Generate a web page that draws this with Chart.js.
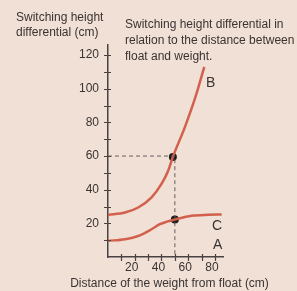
<!DOCTYPE html>
<html>
<head>
<meta charset="utf-8">
<script src="https://cdn.jsdelivr.net/npm/chart.js@4"></script>
<style>
  html, body { margin: 0; padding: 0; }
  body { width: 297px; height: 291px; background: #f0e0d5; position: relative; overflow: hidden;
         font-family: "Liberation Sans", Arial, sans-serif; color: #3a3333; }
  #chart { position: absolute; left: 0; top: 0; }
  .txt { position: absolute; font-size: 12px; white-space: nowrap; }
  .lbl { position: absolute; font-size: 14px; line-height: 14px; }
</style>
</head>
<body>
<canvas id="chart" width="297" height="291"></canvas>
<div class="txt" style="left:16px; top:10px; line-height:15px;">Switching height<br>differential (cm)</div>
<div class="txt" style="left:125px; top:16px; line-height:16px;">Switching height differential in<br>relation to the distance between<br>float and weight.</div>
<div class="txt" style="left:0; width:339px; text-align:center; top:276px; line-height:15px;">Distance of the weight from float (cm)</div>
<div class="lbl" style="left:206px; top:75px;">B</div>
<div class="lbl" style="left:212px; top:218px;">C</div>
<div class="lbl" style="left:213px; top:237px;">A</div>
<script>
// ------------------------------------
// Data
// ------------------------------------
const curveBX = [0, 12.7, 22.6, 32.6, 40, 45, 48.5, 57.5, 65.4, 72];
const curveBY = [25, 26.4, 29.4, 35.4, 43.4, 51.3, 59.5, 77.2, 95.1, 113];
const curveAX = [0, 12.7, 22.6, 32.6, 38.8, 44, 50, 62.5, 75, 85];
const curveAY = [9.6, 10.6, 12.5, 16.5, 19.5, 21, 22.3, 24.5, 25.1, 25.3];
const guideX = [0, 50, 50];
const guideY = [60, 60, 0];
const markX = [48.5, 50];
const markY = [59.5, 22.3];
const xLabels = [20, 40, 60, 80];
const yLabels = [20, 40, 60, 80, 100, 120];

const toPts = (xs, ys) => xs.map((x, i) => ({ x: x, y: ys[i] }));

const lineRed = '#d2604c';
const axisCol = '#4a4242';

// ticks that cross the axis line
const crossTicks = {
    id: 'crossTicks',
    afterDraw(chart) {
        const ctx = chart.ctx;
        const xs = chart.scales.x, ys = chart.scales.y;
        ctx.save();
        ctx.strokeStyle = axisCol;
        ctx.lineWidth = 1.2;
        ctx.beginPath();
        ys.ticks.forEach(t => {
            if (t.value <= 0) return;
            const py = Math.round(ys.getPixelForValue(t.value)) + 0.5;
            ctx.moveTo(xs.left - 4, py);
            ctx.lineTo(xs.left + 3, py);
        });
        xs.ticks.forEach(t => {
            if (t.value <= 0) return;
            const px = Math.round(xs.getPixelForValue(t.value)) + 0.5;
            ctx.moveTo(px, ys.bottom - 3);
            ctx.lineTo(px, ys.bottom + 4);
        });
        ctx.stroke();
        ctx.restore();
    }
};

function initChart() {
    const ctx = document.getElementById('chart').getContext('2d');
    new Chart(ctx, {
        type: 'line',
        data: {
            datasets: [
                {
                    data: toPts(guideX, guideY),
                    borderColor: '#666060',
                    borderWidth: 1,
                    borderDash: [4, 3],
                    pointRadius: 0,
                    tension: 0
                },
                {
                    data: toPts(curveBX, curveBY),
                    borderColor: lineRed,
                    borderWidth: 2.5,
                    pointRadius: 0,
                    cubicInterpolationMode: 'monotone'
                },
                {
                    data: toPts(curveAX, curveAY),
                    borderColor: lineRed,
                    borderWidth: 2.5,
                    pointRadius: 0,
                    cubicInterpolationMode: 'monotone'
                },
                {
                    data: toPts(markX, markY),
                    showLine: false,
                    pointRadius: 4,
                    pointBackgroundColor: '#1a1a1a',
                    pointBorderWidth: 0
                }
            ]
        },
        options: {
            responsive: false,
            animation: false,
            layout: { padding: { top: 45, right: 74, left: 0, bottom: 0 } },
            plugins: { legend: { display: false }, tooltip: { enabled: false } },
            scales: {
                x: {
                    type: 'linear',
                    min: 0, max: 86,
                    afterFit(scale) { scale.height = 34; },
                    grid: { display: false, drawTicks: false },
                    border: { display: true, color: axisCol, width: 1.5 },
                    ticks: {
                        stepSize: 10,
                        includeBounds: false,
                        autoSkip: false,
                        maxRotation: 0,
                        padding: 3,
                        labelOffset: -3,
                        color: '#3a3333',
                        font: { family: 'Liberation Sans', size: 12 },
                        callback: v => xLabels.includes(v) ? String(v) : ''
                    }
                },
                y: {
                    type: 'linear',
                    min: 0, max: 126,
                    afterFit(scale) { scale.width = 108; },
                    grid: { display: false, drawTicks: false },
                    border: { display: true, color: axisCol, width: 1.5 },
                    ticks: {
                        stepSize: 10,
                        includeBounds: false,
                        autoSkip: false,
                        padding: 9,
                        color: '#3a3333',
                        font: { family: 'Liberation Sans', size: 12 },
                        callback: v => yLabels.includes(v) ? String(v) : ''
                    }
                }
            }
        },
        plugins: [crossTicks]
    });
}

window.onload = initChart;
</script>
</body>
</html>
